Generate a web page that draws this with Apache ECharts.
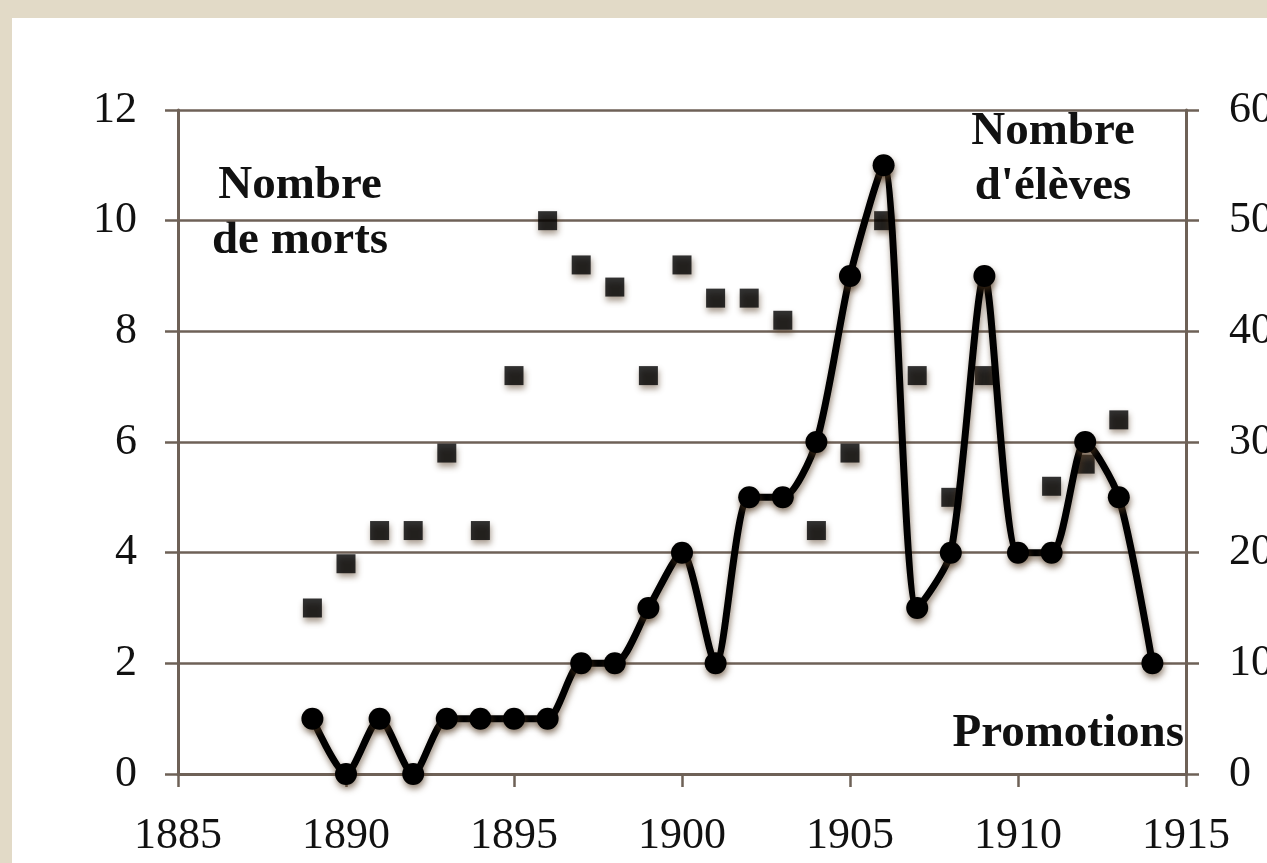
<!DOCTYPE html>
<html>
<head>
<meta charset="utf-8">
<title>Nombre de morts et d'élèves par promotion</title>
<script src="https://cdn.jsdelivr.net/npm/echarts@6/dist/echarts.min.js"></script>
<style>
  html, body { margin: 0; padding: 0; background: #e2dac7; }
  #panel { position: absolute; left: 12px; top: 18px; right: 0; bottom: 0; background: #fff; }
  #chart { position: absolute; left: 0; top: 0; width: 1267px; height: 863px; }
</style>
</head>
<body>
<div id="panel"></div>
<div id="chart"></div>
<script>
// promotions (years) and the two measured series
const promotions = [1889, 1890, 1891, 1892, 1893, 1894, 1895, 1896, 1897, 1898, 1899, 1900, 1901,
  1902, 1903, 1904, 1905, 1906, 1907, 1908, 1909, 1910, 1911, 1912, 1913, 1914]
// nombre de morts (left axis)
const deaths = [1, 0, 1, 0, 1, 1, 1, 1, 2, 2, 3, 4, 2, 5, 5, 6, 9, 11, 3, 4, 9, 4, 4, 6, 5, 2]
// nombre d'élèves (right axis), null where no square is visible
const students = [15, 19, 22, 22, 29, 22, 36, 50, 46, 44, 36, 46, 43, 43, 41, 22, 29, 50, 36, 25, 36,
  null, 26, 28, 32, null]

const yearTicks = [1885, 1890, 1895, 1900, 1905, 1910, 1915]
const deathTicks = [0, 2, 4, 6, 8, 10, 12]
const studentTicks = [0, 10, 20, 30, 40, 50, 60]

const axisColor = '#6e6157'
const serif = '"Liberation Serif", "DejaVu Serif", serif'
const shadow = {
  shadowColor: 'rgba(80, 55, 30, 0.6)',
  shadowBlur: 6,
  shadowOffsetX: 1,
  shadowOffsetY: 4
}

const chart = echarts.init(document.getElementById('chart'), null, { renderer: 'canvas' })

const labelStyle = {
  fontFamily: serif,
  fontSize: 44,
  color: '#111'
}
const titleFont = 'bold 47px ' + serif

function note(text, x, y, align) {
  return {
    type: 'text',
    x: x,
    y: y,
    style: { text: text, font: titleFont, fill: '#111', textAlign: align || 'center', textVerticalAlign: 'middle' }
  }
}

chart.setOption({
  animation: false,
  backgroundColor: 'transparent',
  grid: {
    left: 178,
    right: 81,
    top: 110,
    bottom: 89,
    outerBoundsMode: 'none',
    containLabel: false
  },
  xAxis: {
    type: 'value',
    min: yearTicks[0],
    max: yearTicks[yearTicks.length - 1],
    interval: yearTicks[1] - yearTicks[0],
    axisLine: { lineStyle: { color: axisColor, width: 3 } },
    axisTick: { show: true, length: 13, lineStyle: { color: axisColor, width: 2.5 } },
    splitLine: { show: false },
    axisLabel: Object.assign({ margin: 40, formatter: (v) => String(v) }, labelStyle)
  },
  yAxis: [{
    type: 'value',
    min: deathTicks[0],
    max: deathTicks[deathTicks.length - 1],
    interval: deathTicks[1] - deathTicks[0],
    axisLine: { show: true, lineStyle: { color: axisColor, width: 3 } },
    axisTick: { show: true, length: 13, lineStyle: { color: axisColor, width: 2.5 } },
    splitLine: { show: true, lineStyle: { color: axisColor, width: 2.5 } },
    axisLabel: Object.assign({ margin: 41 }, labelStyle)
  }, {
    type: 'value',
    position: 'right',
    min: studentTicks[0],
    max: studentTicks[studentTicks.length - 1],
    interval: studentTicks[1] - studentTicks[0],
    axisLine: { show: true, lineStyle: { color: axisColor, width: 3 } },
    axisTick: { show: true, length: 13, lineStyle: { color: axisColor, width: 2.5 } },
    splitLine: { show: false },
    axisLabel: Object.assign({ margin: 43 }, labelStyle)
  }],
  graphic: [
    note('Nombre', 300, 186),
    note('de morts', 300, 241),
    note('Nombre', 1053, 132),
    note("d'élèves", 1053, 187),
    note('Promotions', 1184, 734, 'right')
  ],
  series: [{
    name: "Nombre d'élèves",
    type: 'scatter',
    yAxisIndex: 1,
    symbol: 'rect',
    symbolSize: 19,
    itemStyle: Object.assign({ color: '#000' }, shadow),
    data: promotions.map((y, i) => [y, students[i]]).filter((d) => d[1] !== null)
  }, {
    name: 'Nombre de morts',
    type: 'line',
    yAxisIndex: 0,
    smooth: 0.25,
    symbol: 'circle',
    symbolSize: 22,
    showAllSymbol: true,
    lineStyle: Object.assign({ color: '#000', width: 7 }, shadow),
    itemStyle: Object.assign({ color: '#000' }, shadow),
    data: promotions.map((y, i) => [y, deaths[i]])
  }]
})
</script>
</body>
</html>
